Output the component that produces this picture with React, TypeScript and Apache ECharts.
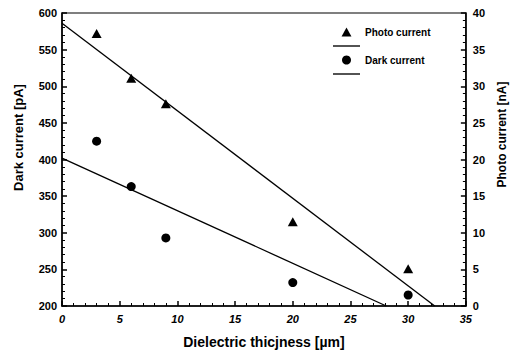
import React, { useEffect, useRef } from "react";
import * as echarts from "echarts";

const thickness = [3, 6, 9, 20, 30];
const photoCurrent = [37.2, 31.1, 27.6, 11.5, 5.1];
const darkCurrent = [425, 363, 293, 232, 215];
const photoFit = [[0, 38.6], [32.3, 0]];
const darkFit = [[0, 402], [28.1, 200]];

const FONT = "Liberation Sans, Arial, sans-serif";
const TRI = "path://M0,10 L5.5,0 L11,10 Z";
const BAR = "path://M0,0 H100 V5 H0 Z";

export default function App() {
  const ref = useRef<HTMLDivElement>(null);
  useEffect(() => {
    if (!ref.current) return;
    const chart = echarts.init(ref.current, null, { renderer: "svg" });
    const axisLabel = { color: "#000", fontFamily: FONT, fontWeight: "bold", fontSize: 11 };
    const axisName = { color: "#000", fontFamily: FONT, fontWeight: "bold", fontSize: 12 };
    const lineStyle = { color: "#000", width: 1.5 };
    chart.setOption({
      animation: false,
      backgroundColor: "#fff",
      grid: { left: 62, right: 46, top: 13, bottom: 48, show: true, borderColor: "#000", borderWidth: 1.2 },
      legend: {
        orient: "vertical",
        left: 328,
        top: 22,
        itemWidth: 27,
        itemHeight: 9,
        itemGap: 4,
        symbolKeepAspect: true,
        data: [
          { name: "Photo current", icon: TRI, itemStyle: { color: "#000", opacity: 1 } },
          { name: " ", icon: BAR, itemStyle: { color: "#000" } },
          { name: "Dark current", icon: "circle", itemStyle: { color: "#000", opacity: 1 } },
          { name: "  ", icon: BAR, itemStyle: { color: "#000" } },
        ],
        textStyle: { color: "#000", fontFamily: FONT, fontWeight: "bold", fontSize: 10 },
      },
      xAxis: {
        type: "value",
        min: 0,
        max: 35,
        interval: 5,
        name: "Dielectric thicjness [µm]",
        nameLocation: "middle",
        nameGap: 29,
        nameTextStyle: { ...axisName, fontSize: 14 },
        axisLine: { lineStyle },
        axisTick: { inside: true, length: 5, lineStyle },
        minorTick: { show: true, splitNumber: 5, length: 3, lineStyle: { color: "#000" } },
        axisLabel: { ...axisLabel, fontStyle: "italic", margin: 7 },
        splitLine: { show: false },
      },
      yAxis: [
        {
          type: "value",
          min: 200,
          max: 600,
          interval: 50,
          name: "Dark current [pA]",
          nameLocation: "middle",
          nameGap: 37,
          nameTextStyle: { ...axisName, fontSize: 13, padding: [0, 0, 0, 44] },
          axisLine: { show: true, lineStyle },
          axisTick: { inside: true, length: 5, lineStyle },
          minorTick: { show: true, splitNumber: 5, length: 3, lineStyle: { color: "#000" } },
          axisLabel: { ...axisLabel, margin: 5 },
          splitLine: { show: false },
        },
        {
          type: "value",
          min: 0,
          max: 40,
          interval: 5,
          position: "right",
          name: "Photo current [nA]",
          nameLocation: "middle",
          nameGap: 30,
          nameRotate: 90,
          nameTextStyle: { ...axisName, fontSize: 12, padding: [0, 0, 0, 50] },
          axisLine: { show: true, lineStyle },
          axisTick: { inside: true, length: 5, lineStyle },
          minorTick: { show: true, splitNumber: 5, length: 3, lineStyle: { color: "#000" } },
          axisLabel: { ...axisLabel, margin: 7 },
          splitLine: { show: false },
        },
      ],
      series: [
        {
          name: "Photo current",
          type: "scatter",
          yAxisIndex: 1,
          symbol: TRI,
          symbolSize: [10, 9],
          itemStyle: { color: "#000", opacity: 1 },
          data: thickness.map((x, i) => [x, photoCurrent[i]]),
        },
        {
          name: " ",
          type: "line",
          yAxisIndex: 1,
          symbol: "none",
          lineStyle: { color: "#000", width: 1.3 },
          itemStyle: { color: "#000" },
          data: photoFit,
        },
        {
          name: "Dark current",
          type: "scatter",
          yAxisIndex: 0,
          symbol: "circle",
          symbolSize: 9,
          itemStyle: { color: "#000", opacity: 1 },
          data: thickness.map((x, i) => [x, darkCurrent[i]]),
        },
        {
          name: "  ",
          type: "line",
          yAxisIndex: 0,
          symbol: "none",
          lineStyle: { color: "#000", width: 1.3 },
          itemStyle: { color: "#000" },
          data: darkFit,
        },
      ],
    });
    return () => chart.dispose();
  }, []);
  return <div ref={ref} style={{ width: 516, height: 354, position: "absolute", left: 0, top: 0 }} />;
}
